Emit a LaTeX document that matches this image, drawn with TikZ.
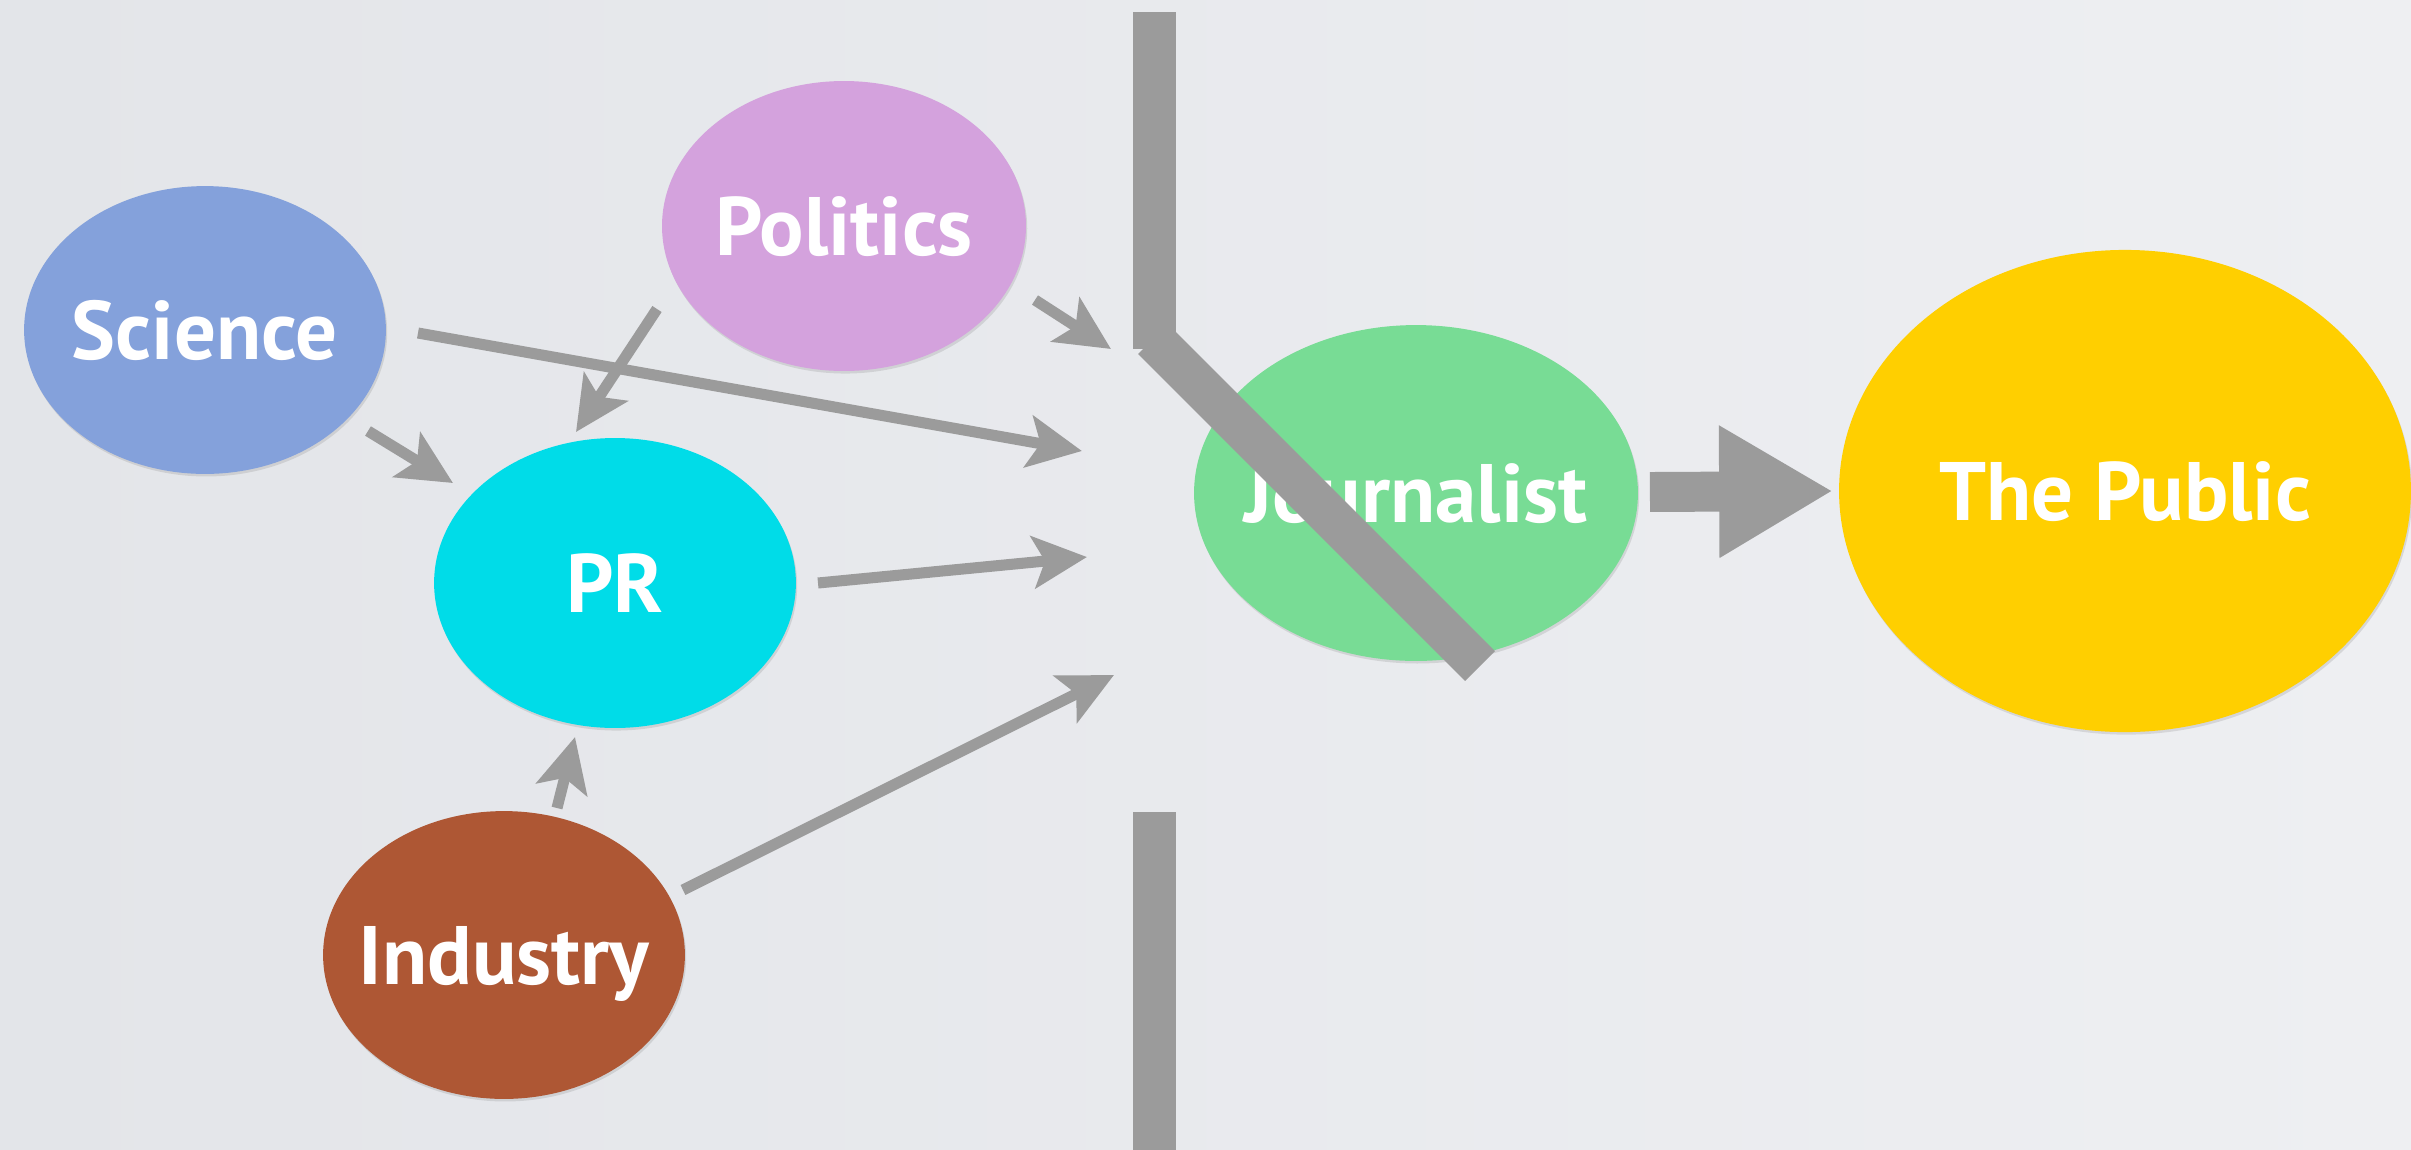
\documentclass[tikz,border=0pt]{standalone}
\usepackage{fontspec}
\setmainfont{PT Sans}
\usetikzlibrary{arrows.meta,calc,shadows,shapes.geometric}

\definecolor{bgL}{HTML}{E3E5E9}
\definecolor{bgR}{HTML}{EEEFF2}
\definecolor{flow}{HTML}{9B9B9B}
\definecolor{sciC}{HTML}{84A1DB}
\definecolor{polC}{HTML}{D4A2DD}
\definecolor{prC}{HTML}{00DCE8}
\definecolor{indC}{HTML}{AE5734}
\definecolor{jourC}{HTML}{78DC95}
\definecolor{pubC}{HTML}{FFCF00}

\tikzset{
  blob/.style={ellipse, draw=none, outer sep=0pt, inner sep=0pt,
    drop shadow={shadow xshift=0.3pt, shadow yshift=-0.6pt, opacity=0.22}},
  txt/.style={text=white, inner sep=0pt, anchor=base,
    font=\bfseries\fontsize{19.5}{22}\selectfont},
  flowarrow/.style={draw=flow, line width=2.6pt, line cap=butt,
    -{Stealth[length=12.7pt,width=12.2pt,inset=2.8pt]}},
  wall/.style={draw=flow, line width=9.9pt, line cap=butt},
  bigarrow/.style={draw=flow, line width=9.4pt, -{Triangle[length=26.8pt,width=29.2pt]}}
}

\begin{document}
\begin{tikzpicture}
\begin{scope}[x=0.2352pt,y=-0.2352pt]
% backdrop
\shade[left color=bgL, right color=bgR, use as bounding box] (0,0) rectangle (2411,1150);

% actors
\node[blob, fill=sciC, minimum width=85.1pt, minimum height=67.7pt] (sci) at (205,330) {};
\node[blob, fill=polC, minimum width=85.6pt, minimum height=68.2pt] (pol) at (844,226) {};
\node[blob, fill=prC, minimum width=85.1pt, minimum height=68.2pt] (pr) at (615,583) {};
\node[blob, fill=indC, minimum width=85.1pt, minimum height=67.7pt] (ind) at (504,955) {};
\node[blob, fill=jourC, minimum width=104.4pt, minimum height=79pt] (jour) at (1416,493) {};
\node[blob, fill=pubC, minimum width=134.5pt, minimum height=113.4pt] (pub) at (2125,491) {};

% their names, cap line centred on each ellipse
\node[txt] (sciT) at ($(sci)+(0,29)$) {Science};
\node[txt] (polT) at ($(pol)+(0,29)$) {Politics};
\node[txt] (prT) at ($(pr)+(0,29)$) {PR};
\node[txt] (indT) at ($(ind)+(0,29)$) {Industry};
\node[txt] (jourT) at ($(jour)+(0,29)$) {Journalist};
\node[txt] (pubT) at ($(pub)+(0,29)$) {The Public};

% points where the flows stop in front of the wall
\coordinate (hitPol) at (1111,349);
\coordinate (hitSci) at (1082,451);
\coordinate (hitPR)  at (1087,557);
\coordinate (hitInd) at (1114,675);

% flows into PR
\draw[flowarrow] ($(sci)+(163,101)$) -- ($(pr)+(-162,-100)$);
\draw[flowarrow] ($(pol)+(-187,83)$) -- ($(pr)+(-39,-151)$);
\draw[flowarrow] ($(ind)+(53,-147)$) -- ($(pr)+(-40,154)$);

% flows towards the journalist
\draw[flowarrow] ($(sci)+(213,3)$) -- (hitSci);
\draw[flowarrow] ($(pol)+(191,74)$) -- (hitPol);
\draw[flowarrow] ($(pr)+(203,0)$) -- (hitPR);
\draw[flowarrow] ($(ind)+(179,-65)$) -- (hitInd);

% the wall and the broken gate
\coordinate (wallTopA) at (1154.5,12);
\coordinate (wallTopB) at (1154.5,349);
\coordinate (wallBotA) at (1154.5,812);
\coordinate (wallBotB) at (1154.5,1150);
\coordinate (gateA) at (1153,339);
\coordinate (gateB) at (1480,666);
\draw[wall] (wallTopA) -- (wallTopB);
\draw[wall] (wallBotA) -- (wallBotB);
\draw[wall] (gateA) -- (gateB);

% journalist to the public
\draw[bigarrow] ($(jour.east)+(12,-1)$) -- ($(pub.west)+(-6,0)$);
\end{scope}
\end{tikzpicture}
\end{document}
